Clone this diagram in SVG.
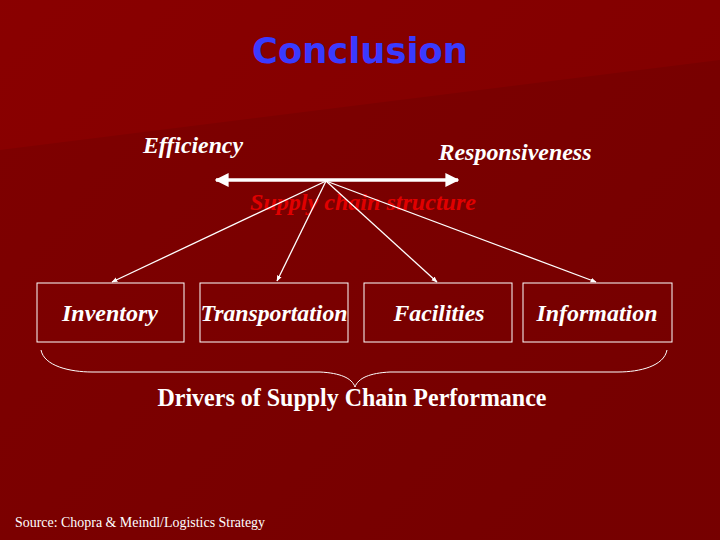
<svg xmlns="http://www.w3.org/2000/svg" width="720" height="540" viewBox="0 0 720 540">
<defs>
<linearGradient id="bg" x1="0" y1="0" x2="1" y2="0.6">
<stop offset="0" stop-color="#8c0000"/>
<stop offset="1" stop-color="#730000"/>
</linearGradient>
<marker id="ah" viewBox="0 0 10 10" refX="9" refY="5" markerWidth="6" markerHeight="6" orient="auto-start-reverse" markerUnits="userSpaceOnUse">
<path d="M0,1 L10,5 L0,9 z" fill="#fff"/>
</marker>
<marker id="ah2" viewBox="0 0 10 10" refX="9" refY="5" markerWidth="4" markerHeight="4" orient="auto-start-reverse" markerUnits="strokeWidth">
<path d="M0,0 L10,5 L0,10 z" fill="#fff"/>
</marker>
</defs>
<style>
.lbl{font-family:"Liberation Serif",serif;font-style:italic;font-weight:bold;fill:#fff;font-size:24px;text-anchor:middle}
.box{fill:none;stroke:#fff;stroke-width:1}
.con{stroke:#fff;stroke-width:1.3;fill:none;marker-end:url(#ah)}
</style>
<rect width="720" height="540" fill="#780000"/>
<polygon points="0,0 720,0 720,60 0,150" fill="#880000"/>
<rect width="720" height="540" fill="url(#bg)" opacity="0.35"/>
<text x="360" y="63" font-family="'DejaVu Sans',sans-serif" font-weight="bold" font-size="35" fill="#3a3aff" text-anchor="middle" textLength="216" lengthAdjust="spacingAndGlyphs">Conclusion</text>
<text x="193" y="153" class="lbl" textLength="100" lengthAdjust="spacingAndGlyphs">Efficiency</text>
<text x="515" y="160" class="lbl" textLength="153" lengthAdjust="spacingAndGlyphs">Responsiveness</text>
<text x="363" y="210" font-family="'Liberation Serif',serif" font-style="italic" font-weight="bold" font-size="24" fill="#e00000" text-anchor="middle" textLength="226" lengthAdjust="spacingAndGlyphs">Supply chain structure</text>
<g id="connectors">
<line x1="216" y1="180" x2="458" y2="180" stroke="#fff" stroke-width="3.5" marker-start="url(#ah2)" marker-end="url(#ah2)"/>
<line class="con" x1="326" y1="181" x2="112" y2="282"/>
<line class="con" x1="326" y1="181" x2="277" y2="281"/>
<line class="con" x1="326" y1="181" x2="437" y2="282"/>
<line class="con" x1="326" y1="181" x2="596" y2="282"/>
</g>
<g id="inventory"><rect class="box" x="37" y="283" width="147" height="59"/><text class="lbl" x="110" y="321" textLength="96" lengthAdjust="spacingAndGlyphs">Inventory</text></g>
<g id="transportation"><rect class="box" x="200" y="283" width="148" height="59"/><text class="lbl" x="274" y="321" textLength="147" lengthAdjust="spacingAndGlyphs">Transportation</text></g>
<g id="facilities"><rect class="box" x="364" y="283" width="148" height="59"/><text class="lbl" x="439" y="321" textLength="91" lengthAdjust="spacingAndGlyphs">Facilities</text></g>
<g id="information"><rect class="box" x="523" y="283" width="149" height="59"/><text class="lbl" x="597" y="321" textLength="121" lengthAdjust="spacingAndGlyphs">Information</text></g>
<path d="M41,350 C44,366 70,372 92,372 L320,372 C340,373 352,378 355,387 C358,378 370,373 390,372 L618,372 C640,372 664,366 667,350" fill="none" stroke="#fff" stroke-width="1"/>
<text x="352" y="406" font-family="'Liberation Serif',serif" font-weight="bold" font-size="25" fill="#fff" text-anchor="middle" textLength="389" lengthAdjust="spacingAndGlyphs">Drivers of Supply Chain Performance</text>
<text x="15" y="527" font-family="'Liberation Serif',serif" font-size="14" fill="#fff" textLength="250" lengthAdjust="spacingAndGlyphs">Source: Chopra &amp; Meindl/Logistics Strategy</text>
</svg>
